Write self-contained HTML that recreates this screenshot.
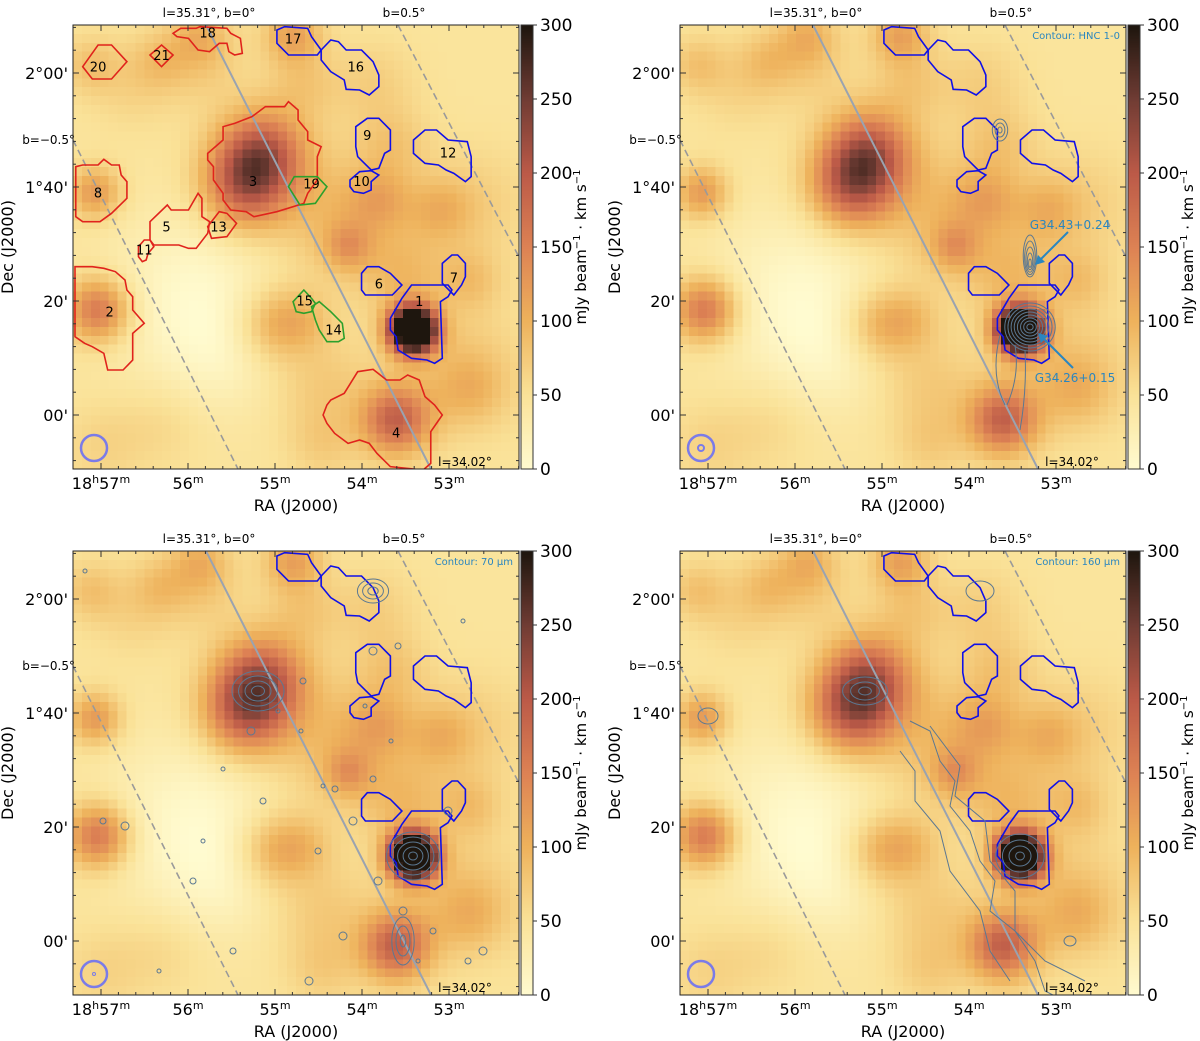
<!DOCTYPE html>
<html><head><meta charset="utf-8">
<style>
html,body{margin:0;padding:0;background:#fff;width:1200px;height:1041px;overflow:hidden}
#wrap{position:relative;width:1200px;height:1041px}
canvas{position:absolute;image-rendering:pixelated}
svg{position:absolute;left:0;top:0}
text{font-family:"DejaVu Sans","Liberation Sans",sans-serif;fill:#000}
</style></head>
<body>
<div id="wrap">
<canvas id="c0" width="50" height="50"></canvas>
<canvas id="c1" width="50" height="50"></canvas>
<canvas id="c2" width="50" height="50"></canvas>
<canvas id="c3" width="50" height="50"></canvas>
<canvas id="cb0" width="1" height="100"></canvas>
<canvas id="cb1" width="1" height="100"></canvas>
<canvas id="cb2" width="1" height="100"></canvas>
<canvas id="cb3" width="1" height="100"></canvas>
<svg id="svg" width="1200" height="1041"></svg>
</div>
<script>
// ---- data: intensity blobs (panel-local px), mJy/beam km/s ----
const blobX   = [340, 189, 172, 323, 25, 22, 275, 220, 265, 196, 388, 120, 130, 60, 300, 250, 400, 150, 330, 90, 127, 17, 87, 307, 367, 397, 227, 397, 230, 320, 30, 250];
const blobY   = [305, 128, 162, 395, 285, 168, 222, 10, 192, 300, 342, 270, 40, 60, 60, 360, 180, 330, 250, 400, 10, 40, 35, 175, 185, 255, 295, 365, 60, 120, 420, 420];
const blobAmp = [420, 140, 130, 140, 120, 80, 55, 70, 45, 55, 30, -40, 25, 20, 25, 30, 25, -20, 40, 15, 45, 35, 30, 45, 40, 35, 40, 35, 30, 30, 20, 25];
const blobSig = [16, 30, 30, 24, 22, 18, 16, 20, 45, 26, 45, 60, 30, 30, 30, 35, 40, 40, 30, 30, 20, 20, 20, 22, 22, 22, 22, 25, 25, 25, 30, 25];
const baseLevel = 46;
const cbTicks = [0, 50, 100, 150, 200, 250, 300];
const raLabels = ["57", "56", "55", "54", "53"];
const decLabels = ["2°00'", "1°40'", "20'", "00'"];
const colStops = [[0,[255,251,208]],[50,[250,226,152]],[100,[238,178,92]],[150,[221,130,84]],[200,[188,90,72]],[250,[112,60,52]],[300,[30,22,14]]];

const PW=446, PH=444, X0=73, Y0=25;
const panels=[{ox:0,oy:0,k:0},{ox:607,oy:0,k:1},{ox:0,oy:526,k:2},{ox:607,oy:526,k:3}];
function raX(i){return 28+87*i;}
function decY(i){return 48+114*i;}
function cbY(v){return PH - v/300*PH;}
function cmap(v){v=Math.max(0,Math.min(300,v));
 for(let i=1;i<colStops.length;i++){if(v<=colStops[i][0]){const a=colStops[i-1],b=colStops[i];const t=(v-a[0])/(b[0]-a[0]);
  return a[1].map((c,j)=>Math.round(c+(b[1][j]-c)*t));}} return colStops[6][1];}
function field(x,y){let v=baseLevel;for(let i=0;i<blobX.length;i++){const dx=x-blobX[i],dy=y-blobY[i];v+=blobAmp[i]*Math.exp(-(dx*dx+dy*dy)/(2*blobSig[i]*blobSig[i]));}return v;}

panels.forEach((p,pi)=>{
 const c=document.getElementById('c'+pi);
 c.style.left=(X0+p.ox)+'px';c.style.top=(Y0+p.oy)+'px';c.style.width=PW+'px';c.style.height=PH+'px';
 const g=c.getContext('2d');
 for(let j=0;j<50;j++)for(let i=0;i<50;i++){const v=field((i+0.5)*PW/50,(j+0.5)*PH/50);const cc=cmap(v);g.fillStyle=`rgb(${cc[0]},${cc[1]},${cc[2]})`;g.fillRect(i,j,1,1);}
 const cb=document.getElementById('cb'+pi);
 cb.style.left=(X0+p.ox+448)+'px';cb.style.top=(Y0+p.oy)+'px';cb.style.width='12px';cb.style.height=PH+'px';cb.style.imageRendering='auto';
 const h=cb.getContext('2d');for(let j=0;j<100;j++){const cc=cmap(300-(j+0.5)*3);h.fillStyle=`rgb(${cc[0]},${cc[1]},${cc[2]})`;h.fillRect(0,j,1,1);}
});

const svg=document.getElementById('svg');const NS='http://www.w3.org/2000/svg';
function el(t,a,parent){const e=document.createElementNS(NS,t);for(const k in a)e.setAttribute(k,a[k]);(parent||svg).appendChild(e);return e;}
function Z(pts){return pts.map(p=>[p[0]/2.6-73,p[1]/3-25]);}

const redRegions={
 "20":[[215,200],[255,135],[290,135],[330,185],[290,237],[240,237]],
 "21":[[390,165],[420,135],[450,165],[420,200]],
 "18":[[450,100],[470,85],[510,85],[520,80],[590,85],[600,100],[625,115],[630,160],[610,165],[595,155],[590,130],[570,130],[545,155],[515,150],[490,115],[460,110]],
 "3":[[540,460],[580,420],[580,380],[610,370],[655,350],[690,320],[740,320],[750,305],[775,330],[775,360],[800,395],[800,420],[835,440],[825,470],[825,540],[800,580],[790,610],[720,635],[660,650],[640,635],[600,630],[580,600],[580,580],[555,540],[555,500],[540,480]],
 "8":[[197,610],[197,500],[215,495],[255,495],[270,478],[290,495],[310,495],[315,525],[330,545],[330,595],[290,640],[260,665],[215,665],[197,650]],
 "5":[[390,665],[435,615],[445,630],[490,630],[515,580],[525,595],[525,650],[545,665],[540,700],[510,745],[490,745],[465,735],[400,735],[390,720]],
 "13":[[540,680],[570,635],[590,640],[615,670],[590,710],[550,715]],
 "11":[[360,740],[375,720],[390,720],[400,740],[385,760],[380,780],[370,785],[360,770]],
 "2":[[195,800],[240,800],[270,805],[300,815],[325,840],[330,870],[345,890],[345,930],[375,970],[345,1000],[345,1080],[320,1110],[280,1110],[270,1060],[240,1040],[220,1030],[195,1010]],
 "4":[[840,1245],[850,1215],[860,1200],[895,1180],[930,1115],[970,1108],[1005,1140],[1040,1140],[1060,1125],[1090,1140],[1105,1190],[1130,1215],[1150,1245],[1120,1295],[1120,1390],[1100,1410],[1015,1400],[980,1360],[960,1330],[935,1320],[905,1330],[870,1300],[850,1270]]
};
const greenRegions={
 "19":[[750,560],[765,530],[825,530],[850,560],[820,610],[780,615]],
 "15":[[762,905],[790,870],[810,895],[820,910],[810,935],[790,940],[770,935]],
 "14":[[810,920],[830,905],[860,935],[890,970],[895,1015],[880,1025],[850,1025],[830,990],[820,960]]
};
const blueRegions={
 "17":[[720,90],[740,80],[800,85],[810,110],[835,150],[825,165],[750,165],[720,130]],
 "16":[[835,150],[860,120],[880,125],[900,150],[940,150],[970,185],[985,225],[985,260],[960,285],[935,270],[900,268],[895,240],[860,215],[835,180]],
 "9":[[925,380],[955,355],[985,355],[1015,390],[1015,450],[1000,460],[985,505],[965,510],[930,470],[925,440]],
 "10":[[910,540],[935,515],[965,512],[985,525],[965,545],[965,570],[945,580],[920,575],[910,560]],
 "12":[[1075,420],[1105,390],[1135,390],[1165,420],[1215,425],[1225,470],[1225,530],[1210,545],[1180,520],[1160,510],[1140,495],[1105,490],[1075,460]],
 "6":[[940,820],[955,800],[985,800],[1015,820],[1045,855],[1020,885],[950,885],[940,870]],
 "7":[[1150,790],[1175,765],[1190,765],[1210,790],[1210,830],[1200,855],[1180,885],[1150,850]],
 "1":[[1015,955],[1045,895],[1070,855],[1165,855],[1175,870],[1165,890],[1145,905],[1150,1075],[1130,1090],[1110,1080],[1070,1075],[1035,1050],[1030,1010],[1015,990]]
};
const regionLabels={"20":[255,200],"21":[420,165],"18":[540,97],"17":[762,115],"16":[925,200],"9":[955,405],"12":[1165,457],"3":[658,543],"19":[810,550],"10":[940,543],"8":[255,577],"5":[433,680],"13":[568,680],"11":[375,748],"6":[985,850],"7":[1180,833],"1":[1090,903],"15":[792,902],"14":[867,988],"2":[285,935],"4":[1030,1297]};

const hncX=[350,350,320], hncY=[302,240,105];
const pts70X=[12,30,52,150,160,178,205,230,236,250,262,280,292,300,305,318,325,330,345,360,375,390,395,410,130,245,270,228,190,300,86,120];
const pts70Y=[20,270,275,218,400,180,160,130,430,235,238,270,155,228,330,190,95,360,410,380,260,70,410,400,290,300,385,180,250,100,420,330];

panels.forEach((p,pi)=>{
 const ox=X0+p.ox, oy=Y0+p.oy;
 const G=el('g',{transform:`translate(${ox},${oy})`});
 
 
 const clipId='clip'+pi;
 const cp=el('clipPath',{id:clipId},G);el('rect',{x:0,y:0,width:PW,height:PH},cp);
 const C=el('g',{'clip-path':`url(#${clipId})`},G);
 const l1=el('line',{x1:133,y1:0,x2:358,y2:444,stroke:'#9aa3b0','stroke-width':2},C);
 
 const l2=el('line',{x1:0,y1:115,x2:165,y2:444,stroke:'#9a9a9a','stroke-width':1.6,'stroke-dasharray':'7,4'},C);
 
 const l3=el('line',{x1:325,y1:0,x2:446,y2:232,stroke:'#9a9a9a','stroke-width':1.6,'stroke-dasharray':'7,4'},C);
 
 function poly(pts,col,name){const e=el('polygon',{points:Z(pts).map(q=>q.join(',')).join(' '),fill:'none',stroke:col,'stroke-width':1.6},C);}
 if(p.k===0){
  for(const k in redRegions)poly(redRegions[k],'#e0231c','region-'+k);
  for(const k in greenRegions)poly(greenRegions[k],'#2ca02c','region-'+k);
 }
 for(const k in blueRegions)poly(blueRegions[k],'#1010e8','region-'+k);
 if(p.k===0){for(const k in regionLabels){const q=Z([regionLabels[k]])[0];const t=el('text',{x:q[0],y:q[1]+5,'text-anchor':'middle','font-size':13},C);t.textContent=k;}}
 const cc='#5b7892';
 if(p.k===1){
  for(let r=3;r<=24;r+=3)el('ellipse',{cx:hncX[0],cy:hncY[0],rx:r*1.05,ry:r,fill:'none',stroke:cc,'stroke-width':1},C);
  for(let r=3;r<=15;r+=3)el('ellipse',{cx:hncX[1],cy:hncY[1]-r*0.6,rx:r*0.45,ry:r*1.4,fill:'none',stroke:cc,'stroke-width':1},C);
  for(let r=3;r<=12;r+=4)el('ellipse',{cx:hncX[2],cy:hncY[2],rx:r*0.7,ry:r,fill:'none',stroke:cc,'stroke-width':1},C);
  el('path',{d:'M335,320 q5,30 -8,60 M345,325 q2,40 -5,80 M320,310 q-10,40 5,70',fill:'none',stroke:cc,'stroke-width':1},C);
 }
 if(p.k===2){
  for(let i=0;i<pts70X.length;i++){el('circle',{cx:pts70X[i],cy:pts70Y[i],r:2+(i%3),fill:'none',stroke:cc,'stroke-width':1},C);}
  for(let r=4;r<=28;r+=5)el('ellipse',{cx:340,cy:305,rx:r*1.1,ry:r,fill:'none',stroke:cc,'stroke-width':1},C);
  for(let r=5;r<=20;r+=5)el('ellipse',{cx:185,cy:140,rx:r*1.3,ry:r,fill:'none',stroke:cc,'stroke-width':1},C);
  for(let r=4;r<=16;r+=6)el('ellipse',{cx:330,cy:390,rx:r*0.7,ry:r*1.5,fill:'none',stroke:cc,'stroke-width':1},C);
  for(let r=4;r<=12;r+=4)el('ellipse',{cx:300,cy:40,rx:r*1.3,ry:r,fill:'none',stroke:cc,'stroke-width':1},C);
 }
 if(p.k===3){
  el('path',{d:'M230,170 l20,10 l10,30 l15,20 l-5,25 l20,25 l10,30 l15,20 l-5,30 l25,20 l20,30 l10,30 l20,10 l20,20 l30,5 M250,175 l30,40 l-5,30 l30,25 l5,40 l25,30 l0,40 l30,30 l40,20 M220,200 l15,20 l0,30 l25,30 l10,40 l30,40 l10,40 l20,30',fill:'none',stroke:cc,'stroke-width':1},C);
  for(let r=4;r<=22;r+=6)el('ellipse',{cx:340,cy:305,rx:r*1.1,ry:r,fill:'none',stroke:cc,'stroke-width':1},C);
  for(let r=4;r<=14;r+=5)el('ellipse',{cx:185,cy:140,rx:r*1.6,ry:r,fill:'none',stroke:cc,'stroke-width':1},C);
  el('ellipse',{cx:28,cy:165,rx:10,ry:8,fill:'none',stroke:cc,'stroke-width':1},C);
  el('ellipse',{cx:300,cy:40,rx:14,ry:10,fill:'none',stroke:cc,'stroke-width':1},C);
  el('ellipse',{cx:390,cy:390,rx:6,ry:5,fill:'none',stroke:cc,'stroke-width':1},C);
 }
 const bm=el('circle',{cx:21,cy:423,r:13,fill:'none',stroke:'#7b7be8','stroke-width':2.5},C);
 
 if(p.k===1)el('circle',{cx:21,cy:423,r:3,fill:'none',stroke:'#7b7be8','stroke-width':2},C);
 if(p.k===2)el('circle',{cx:21,cy:423,r:1.5,fill:'none',stroke:'#7b7be8','stroke-width':1},C);
 el('rect',{x:0,y:0,width:PW,height:PH,fill:'none',stroke:'#222','stroke-width':1},G);
 for(let i=0;i<5;i++){const x=raX(i);el('line',{x1:x,y1:PH,x2:x,y2:PH-6,stroke:'#333'},G);el('line',{x1:x,y1:0,x2:x,y2:6,stroke:'#333'},G);
  for(let m=1;m<5;m++){const xm=x+m*17.4;if(xm<PW){el('line',{x1:xm,y1:PH,x2:xm,y2:PH-3,stroke:'#333'},G);el('line',{x1:xm,y1:0,x2:xm,y2:3,stroke:'#333'},G);}}
  const t=el('text',{x:x,y:PH+20,'text-anchor':'middle','font-size':16},G);
  
  if(i===0){t.innerHTML=`18<tspan font-size="11" dy="-6">h</tspan><tspan dy="6">${raLabels[i]}</tspan><tspan font-size="11" dy="-6">m</tspan>`;}
  else t.innerHTML=`${raLabels[i]}<tspan font-size="11" dy="-6">m</tspan>`;}
 for(let i=0;i<4;i++){const y=decY(i);el('line',{x1:0,y1:y,x2:6,y2:y,stroke:'#333'},G);el('line',{x1:PW,y1:y,x2:PW-6,y2:y,stroke:'#333'},G);
  for(let m=-2;m<3;m++){const ym=y+m*22.8;if(m!==0&&ym>0&&ym<PH){el('line',{x1:0,y1:ym,x2:3,y2:ym,stroke:'#333'},G);el('line',{x1:PW,y1:ym,x2:PW-3,y2:ym,stroke:'#333'},G);}}
  const t=el('text',{x:-5,y:y+6,'text-anchor':'end','font-size':16},G);t.textContent=decLabels[i];}
 let t=el('text',{x:136,y:-8,'text-anchor':'middle','font-size':12},G);t.textContent='l=35.31°, b=0°';
 t=el('text',{x:331,y:-8,'text-anchor':'middle','font-size':12},G);t.textContent='b=0.5°';
 t=el('text',{x:2,y:119,'text-anchor':'end','font-size':12},G);t.textContent='b=−0.5°';
 t=el('text',{x:392,y:441,'text-anchor':'middle','font-size':12},G);t.textContent='l=34.02°';
 if(p.k>0){const txt=['','Contour: HNC 1-0','Contour: 70 μm','Contour: 160 μm'][p.k];
  t=el('text',{x:PW-6,y:14,'text-anchor':'end','font-size':10,style:'fill:#2a86c0'},G);t.textContent=txt;}
 if(p.k===1){
  el('line',{x1:388,y1:207,x2:357,y2:238,stroke:'#2a86c0','stroke-width':2},G);
  el('polygon',{points:'355,240 358,230 365,237',fill:'#2a86c0'},G);
  el('line',{x1:393,y1:343,x2:360,y2:310,stroke:'#2a86c0','stroke-width':2},G);
  el('polygon',{points:'358,308 368,311 361,318',fill:'#2a86c0'},G);
  t=el('text',{x:390,y:204,'text-anchor':'middle','font-size':12,style:'fill:#2a86c0'},G);t.textContent='G34.43+0.24';
  t=el('text',{x:395,y:357,'text-anchor':'middle','font-size':12,style:'fill:#2a86c0'},G);t.textContent='G34.26+0.15';
 }
 t=el('text',{x:223,y:PH+42,'text-anchor':'middle','font-size':16},G);t.textContent='RA (J2000)';
 t=el('text',{x:0,y:0,'text-anchor':'middle','font-size':16,transform:`translate(-60,${PH/2}) rotate(-90)`},G);t.textContent='Dec (J2000)';
 const cbx=448;el('rect',{x:cbx,y:0,width:12,height:PH,fill:'none',stroke:'#333'},G);
 cbTicks.forEach(v=>{const y=cbY(v);el('line',{x1:cbx+12,y1:y,x2:cbx+16,y2:y,stroke:'#333'},G);
  const tt=el('text',{x:cbx+19,y:y+6,'font-size':17},G);tt.textContent=v;});
 t=el('text',{x:0,y:0,'text-anchor':'middle','font-size':15,transform:`translate(${cbx+65},${PH/2}) rotate(-90)`},G);
 t.innerHTML='mJy beam<tspan font-size="10" dy="-6">−1</tspan><tspan dy="6"> · km s</tspan><tspan font-size="10" dy="-6">−1</tspan>';
 
});
</script>
</body></html>
